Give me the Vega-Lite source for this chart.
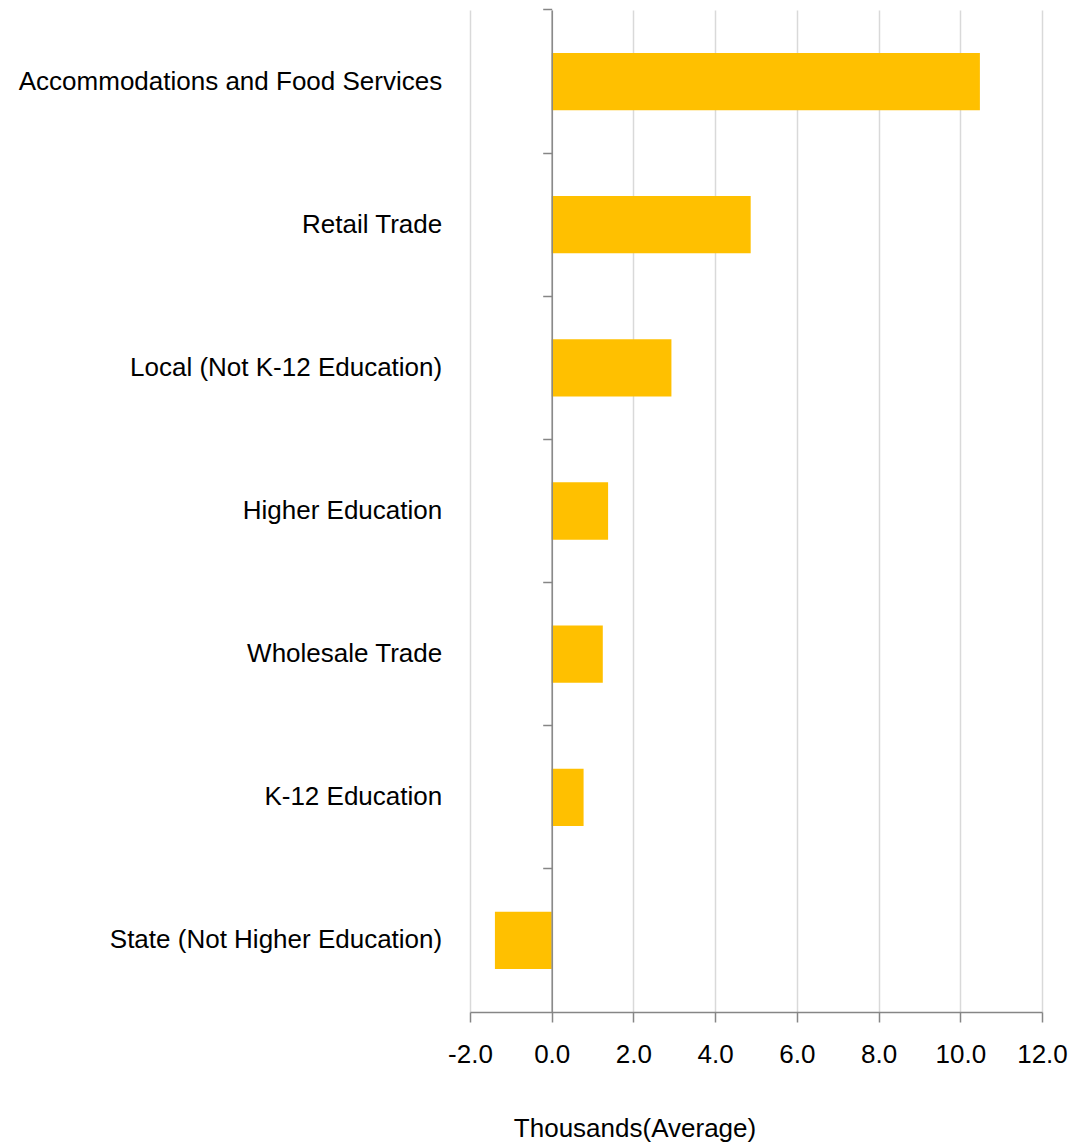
{
  "$schema": "https://vega.github.io/schema/vega-lite/v6.json",
  "autosize": {"type": "none"},
  "padding": {"left": 470, "top": 10, "right": 42, "bottom": 132},
  "width": 572,
  "height": 1002,
  "background": "white",
  "config": {"view": {"stroke": null}},
  "data": {
    "values": [
      {"category": "Accommodations and Food Services", "value": 10.48},
      {"category": "Retail Trade", "value": 4.87},
      {"category": "Local (Not K-12 Education)", "value": 2.93},
      {"category": "Higher Education\u2005", "value": 1.38},
      {"category": "Wholesale Trade", "value": 1.25},
      {"category": "K-12 Education", "value": 0.78},
      {"category": "State (Not Higher Education)", "value": -1.39}
    ]
  },
  "mark": {"type": "bar", "color": "#FFC000"},
  "encoding": {
    "y": {
      "field": "category",
      "type": "nominal",
      "sort": null,
      "scale": {"paddingInner": 0.6, "paddingOuter": 0.3},
      "axis": {
        "title": null,
        "orient": "left",
        "offset": -81.7,
        "bandPosition": -0.75,
        "grid": false,
        "domainColor": "#868686",
        "domainWidth": 1.5,
        "tickColor": "#868686",
        "tickWidth": 1.5,
        "tickSize": 9,
        "labelPadding": 101,
        "labelFont": "Liberation Sans",
        "labelFontSize": 26,
        "labelColor": "#000000",
        "labelLimit": 0,
        "zindex": 1
      }
    },
    "x": {
      "field": "value",
      "type": "quantitative",
      "scale": {"domain": [-2, 12], "nice": false, "zero": false},
      "axis": {
        "values": [-2, 0, 2, 4, 6, 8, 10, 12],
        "labelExpr": "replace(format(datum.value, '.1f'), '\u2212', '-')",
        "grid": true,
        "gridColor": "#d9d9d9",
        "gridWidth": 1.5,
        "domainColor": "#868686",
        "domainWidth": 1.5,
        "tickColor": "#868686",
        "tickWidth": 1.5,
        "tickSize": 10,
        "labelPadding": 19,
        "labelFont": "Liberation Sans",
        "labelFontSize": 26,
        "labelColor": "#000000",
        "labelFlush": false,
        "title": "Thousands(Average)",
        "titleFont": "Liberation Sans",
        "titleFontSize": 26,
        "titleFontWeight": "normal",
        "titleColor": "#000000",
        "titleX": 164.5,
        "titleY": 124,
        "titleAlign": "center",
        "titleBaseline": "alphabetic"
      }
    }
  }
}
